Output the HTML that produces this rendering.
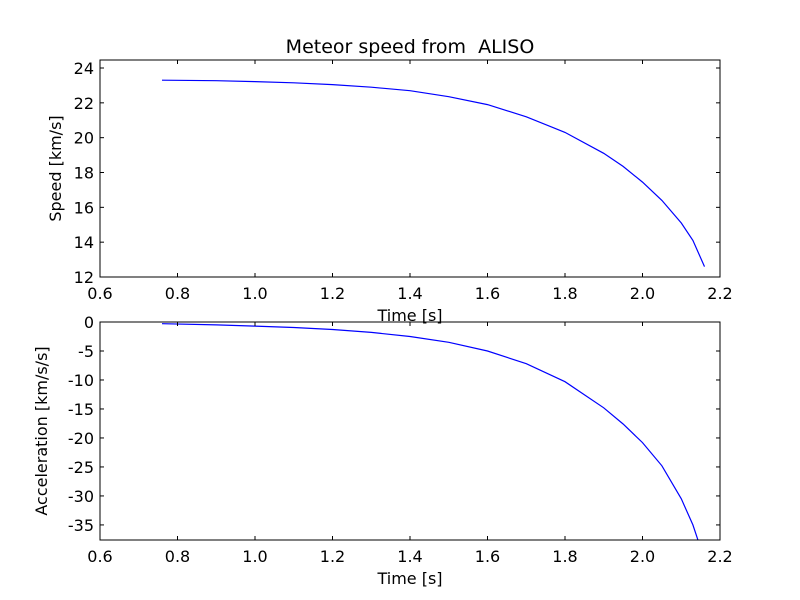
<!DOCTYPE html>
<html><head><meta charset="utf-8"><style>body{margin:0;background:#fff}svg{display:block}text{font-family:"DejaVu Sans","Liberation Sans",sans-serif;fill:#000}</style></head>
<body>
<svg id="c" width="800" height="600"></svg>
<script>
const times=[0.76,0.9,1.0,1.1,1.2,1.3,1.4,1.5,1.6,1.7,1.8,1.9,1.95,2.0,2.05,2.1,2.13,2.16];
const speed=[23.3,23.27,23.22,23.15,23.05,22.9,22.7,22.35,21.9,21.2,20.3,19.1,18.35,17.45,16.4,15.1,14.1,12.6];
const accel=[-0.3,-0.5,-0.7,-0.95,-1.3,-1.8,-2.5,-3.5,-5.0,-7.2,-10.3,-14.8,-17.6,-20.8,-24.8,-30.5,-35.0,-41.0];
const xTicks=[0.6,0.8,1.0,1.2,1.4,1.6,1.8,2.0,2.2];
const speedTicks=[12,14,16,18,20,22,24];
const accelTicks=[0,-5,-10,-15,-20,-25,-30,-35];
const NS="http://www.w3.org/2000/svg",svg=document.getElementById('c');
function mk(t,a,p){const e=document.createElementNS(NS,t);for(const k in a)e.setAttribute(k,a[k]);(p||svg).appendChild(e);return e;}
const X=v=>100+(v-0.6)*620/1.6;
function panel(top,bot,y0,y1,ticks,vals,ylabel,name){
  const Y=v=>bot-(v-y0)*(bot-top)/(y1-y0);
  const g=mk('g',{});
  
  
  const cid='clip-'+name;
  const cp=mk('clipPath',{id:cid},g);mk('rect',{x:100,y:top,width:620,height:bot-top},cp);
  const pts=times.map((t,i)=>X(t).toFixed(1)+','+Y(vals[i]).toFixed(1)).join(' ');
  const line=mk('polyline',{points:pts,fill:'none',stroke:'#0000ff','stroke-width':1.2,'clip-path':'url(#'+cid+')'},g);
  
  
  const fr=mk('rect',{x:100,y:top,width:620,height:bot-top,fill:'none',stroke:'#000','stroke-width':1},g);
  
  
  xTicks.forEach(t=>{const x=X(t);
    mk('line',{x1:x,x2:x,y1:bot,y2:bot-4,stroke:'#000'},g);mk('line',{x1:x,x2:x,y1:top,y2:top+4,stroke:'#000'},g);
    const tx=mk('text',{x:x,y:bot+22,'text-anchor':'middle','font-size':16},g);tx.textContent=t.toFixed(1);
    
    });
  ticks.forEach(t=>{const y=Y(t);
    mk('line',{x1:100,x2:104,y1:y,y2:y,stroke:'#000'},g);mk('line',{x1:720,x2:716,y1:y,y2:y,stroke:'#000'},g);
    const tx=mk('text',{x:94,y:y+6,'text-anchor':'end','font-size':16},g);tx.textContent=t;
    
    });
  const xl=mk('text',{x:410,y:bot+44,'text-anchor':'middle','font-size':16},g);xl.textContent='Time [s]';
  
  
  const cy=(top+bot)/2;
  const yl=mk('text',{x:0,y:0,'text-anchor':'middle','font-size':16,transform:'translate('+(name==='speed-panel'?61:47)+','+cy+') rotate(-90)'},g);yl.textContent=ylabel;
  
  
}
panel(60,277,12,24.46,speedTicks,speed,'Speed [km/s]','speed-panel');
panel(322,540,-37.6,0,accelTicks,accel,'Acceleration [km/s/s]','acceleration-panel');
const ti=mk('text',{x:410,y:53,'text-anchor':'middle','font-size':19});ti.textContent='Meteor speed from \u00a0ALISO';


</script>
</body></html>
